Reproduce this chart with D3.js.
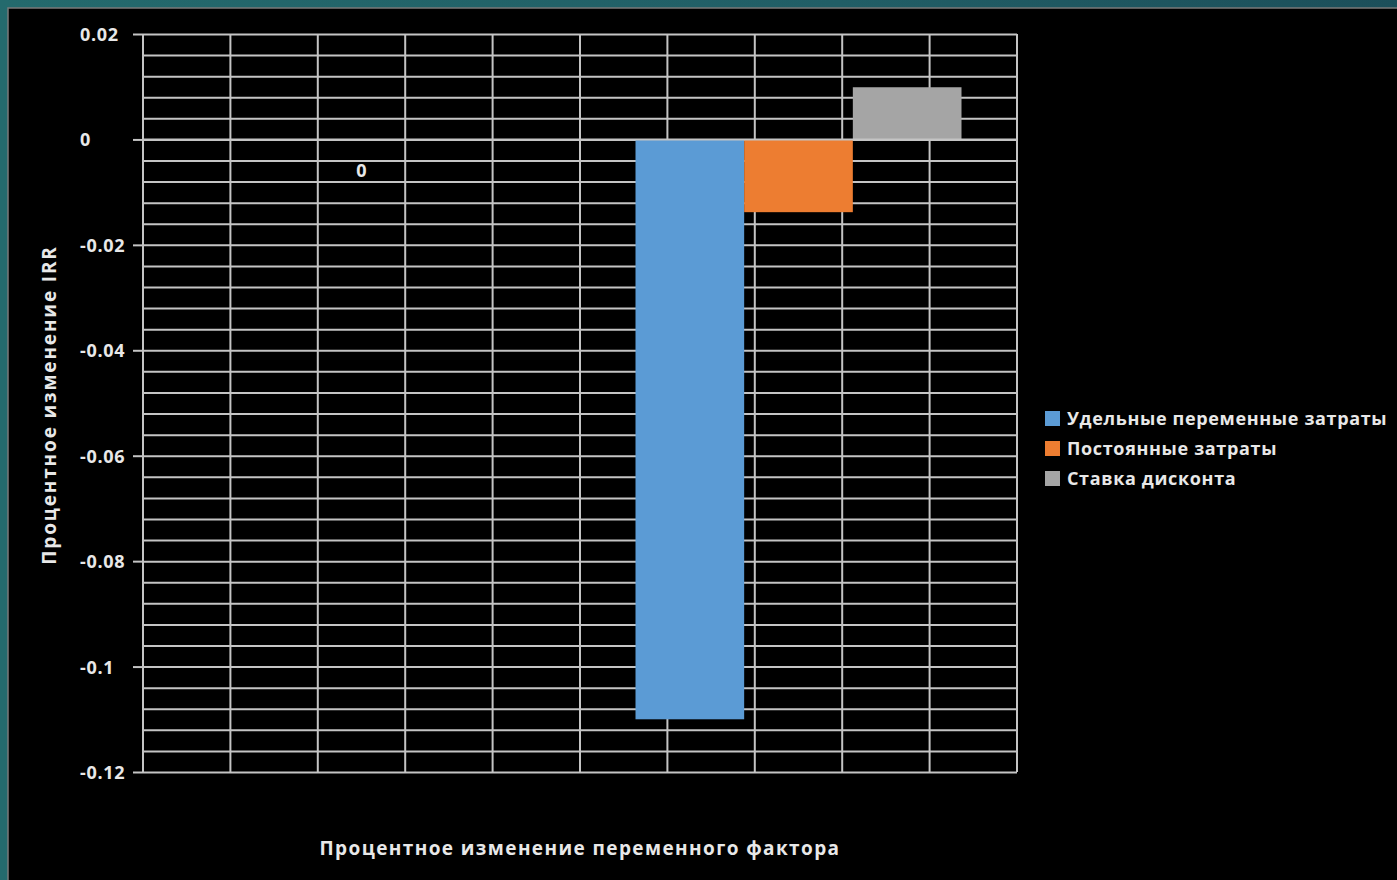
<!DOCTYPE html>
<html>
<head>
<meta charset="utf-8">
<script src="https://cdn.jsdelivr.net/npm/d3@7"></script>
<style>
    html, body { margin: 0; padding: 0; }
    body {
        width: 1397px; height: 880px; overflow: hidden;
        background: linear-gradient(90deg, #246a6d 0%, #215e66 60%, #1c4f5a 100%);
        font-family: "Open Sans", "DejaVu Sans", sans-serif;
    }
    #chart { position: absolute; left: 0; top: 0; }
    .lbl { fill: #e8e8e8; font-weight: 700; }
</style>
</head>
<body>
<svg id="chart" width="1397" height="880"></svg>
<script>
document.addEventListener('DOMContentLoaded', () => {

    // --- DATA ---
    const categories = ['', '', '0', '', '', '', '', '', '', ''];
    const seriesNames = ['Удельные переменные затраты', 'Постоянные затраты', 'Ставка дисконта'];
    const unitVarCosts = [null, null, null, null, null, null, null, -0.11, null, null];
    const fixedCosts = [null, null, null, null, null, null, null, -0.0138, null, null];
    const discountRate = [null, null, null, null, null, null, null, 0.0099, null, null];
    const yMajorTicks = [0.02, 0, -0.02, -0.04, -0.06, -0.08, -0.1, -0.12];
    const yTickLabels = ['0.02', '0', '-0.02', '-0.04', '-0.06', '-0.08', '-0.1', '-0.12'];
    const colors = ['#5b9bd5', '#ed7d31', '#a5a5a5'];

    const seriesValues = [unitVarCosts, fixedCosts, discountRate];

    const svg = d3.select('#chart');

    // black panel with thin grey edge
    svg.append('rect')
        .attr('x', 8).attr('y', 8)
        .attr('width', 1400).attr('height', 880)
        .attr('fill', '#000')
        .attr('stroke', '#7a7a7a')
        .attr('stroke-width', 1.5);

    const plot = { left: 143, right: 1017, top: 34, bottom: 772 };

    const x = d3.scaleBand()
        .domain(d3.range(categories.length))
        .range([plot.left, plot.right])
        .padding(0);

    const y = d3.scaleLinear()
        .domain([-0.12, 0.02])
        .range([plot.bottom, plot.top]);

    const bw = x.bandwidth();
    // clustered bars are wider than one category
    const sub = d3.scaleBand()
        .domain(d3.range(seriesNames.length))
        .range([-1.865 * bw, 1.865 * bw])
        .padding(0);

    const gridColor = '#c4c4c4';

    // minor horizontal gridlines (every 0.004)
    const minorTicks = d3.range(0, 36).map(i => +(-0.12 + i * 0.004).toFixed(3));
    svg.append('g')
        .attr('transform', `translate(${plot.left},0)`)
        .call(d3.axisLeft(y).tickValues(minorTicks).tickSize(-(plot.right - plot.left)).tickFormat(''))
        .call(g => g.select('.domain').remove())
        .call(g => g.selectAll('line').attr('stroke', gridColor).attr('stroke-width', 2));

    // vertical gridlines at category boundaries
    const bounds = d3.range(categories.length + 1).map(i => plot.left + i * bw);
    svg.append('g').selectAll('line')
        .data(bounds)
        .join('line')
        .attr('x1', d => d).attr('x2', d => d)
        .attr('y1', plot.top).attr('y2', plot.bottom)
        .attr('stroke', gridColor)
        .attr('stroke-width', 2);

    // y axis major ticks + labels
    svg.append('g')
        .attr('transform', `translate(${plot.left},0)`)
        .call(d3.axisLeft(y).tickValues(yMajorTicks).tickSize(10).tickFormat(''))
        .call(g => g.select('.domain').remove())
        .call(g => g.selectAll('line').attr('stroke', gridColor).attr('stroke-width', 2));

    svg.append('g').selectAll('text')
        .data(yMajorTicks)
        .join('text')
        .attr('class', 'lbl')
        .attr('x', 80)
        .attr('y', d => y(d) + 7)
        .attr('font-size', 18)
        .attr('letter-spacing', 0.7)
        .text((d, i) => yTickLabels[i]);

    // bars
    seriesValues.forEach((vals, s) => {
        svg.append('g').selectAll('rect')
            .data(vals.map((v, i) => ({ i, v })).filter(d => d.v !== null))
            .join('rect')
            .attr('x', d => x(d.i) + bw / 2 + sub(s))
            .attr('width', sub.bandwidth())
            .attr('y', d => y(Math.max(0, d.v)))
            .attr('height', d => Math.abs(y(d.v) - y(0)))
            .attr('fill', colors[s]);
    });

    // category axis at zero
    const zeroY = y(0);
    svg.append('line')
        .attr('x1', plot.left).attr('x2', plot.right)
        .attr('y1', zeroY).attr('y2', zeroY)
        .attr('stroke', gridColor).attr('stroke-width', 2);
    svg.append('g').selectAll('line')
        .data([bounds[0], bounds[bounds.length - 1]])
        .join('line')
        .attr('x1', d => d).attr('x2', d => d)
        .attr('y1', zeroY).attr('y2', zeroY + 9)
        .attr('stroke', gridColor).attr('stroke-width', 2);

    svg.append('g').selectAll('text')
        .data(categories)
        .join('text')
        .attr('class', 'lbl')
        .attr('x', (d, i) => x(i) + bw / 2)
        .attr('y', 177)
        .attr('text-anchor', 'middle')
        .attr('font-size', 18)
        .text(d => d);

    // axis titles
    svg.append('text')
        .attr('class', 'lbl')
        .attr('transform', 'translate(56,405) rotate(-90)')
        .attr('text-anchor', 'middle')
        .attr('font-size', 19)
        .attr('letter-spacing', 1.85)
        .text('Процентное изменение IRR');

    svg.append('text')
        .attr('class', 'lbl')
        .attr('x', 580)
        .attr('y', 855)
        .attr('text-anchor', 'middle')
        .attr('font-size', 19)
        .attr('letter-spacing', 1.4)
        .text('Процентное изменение переменного фактора');

    // legend
    const legend = svg.append('g').attr('transform', 'translate(1045,411)');
    const items = legend.selectAll('g')
        .data(seriesNames)
        .join('g')
        .attr('transform', (d, i) => `translate(0,${i * 30})`);
    items.append('rect')
        .attr('width', 15).attr('height', 15)
        .attr('fill', (d, i) => colors[i]);
    items.append('text')
        .attr('class', 'lbl')
        .attr('x', 22)
        .attr('y', 14)
        .attr('font-size', 18)
        .attr('letter-spacing', 0.65)
        .text(d => d);
});
</script>
</body>
</html>
